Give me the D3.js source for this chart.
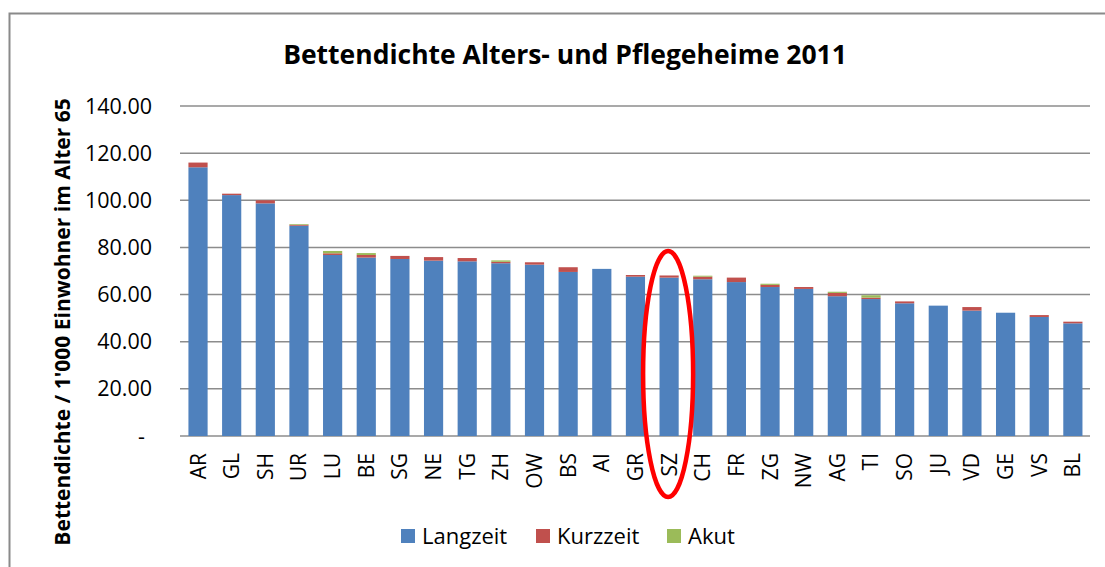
<!DOCTYPE html>
<html>
<head>
<meta charset="utf-8">
<script src="https://cdn.jsdelivr.net/npm/d3@7"></script>
<style>
  body { margin: 0; background: #fff; }
  svg text { font-family: "Open Sans", sans-serif; fill: #000; }
</style>
</head>
<body>
<div id="chart"></div>
<script>
var w = 1105;
var h = 567;

var kantone = ['AR','GL','SH','UR','LU','BE','SG','NE','TG','ZH','OW','BS','AI','GR','SZ','CH','FR','ZG','NW','AG','TI','SO','JU','VD','GE','VS','BL'];
var langzeit = [114.0,102.2,98.7,89.2,76.8,75.7,75.1,74.4,74.1,73.3,72.7,69.6,70.9,67.6,67.2,66.5,65.3,63.2,62.4,59.3,58.1,56.3,55.3,53.2,52.3,50.5,47.8];
var kurzzeit = [2.0,0.6,1.3,0.4,0.7,1.1,1.3,1.5,1.4,0.6,1.0,2.0,0.0,0.7,0.9,1.1,1.9,0.9,0.8,1.4,0.6,0.8,0.0,1.5,0.0,0.8,0.7];
var akut     = [0.0,0.0,0.0,0.3,1.0,0.8,0.0,0.0,0.0,0.6,0.0,0.0,0.0,0.0,0.0,0.4,0.0,0.5,0.0,0.5,1.0,0.0,0.0,0.0,0.0,0.0,0.0];
var serien = ['Langzeit','Kurzzeit','Akut'];
var farben = ['#4F81BD','#C0504D','#9BBB59'];
var yTicks = [0,20,40,60,80,100,120,140];

var rows = kantone.map(function(k, i) {
  return {k: k, Langzeit: langzeit[i], Kurzzeit: kurzzeit[i], Akut: akut[i]};
});
var stacked = d3.stack().keys(serien)(rows);

var svg = d3.select('#chart')
  .append('svg')
    .attr('width', w)
    .attr('height', h);

// outer chart frame (only top and left visible)
svg.append('rect')
  .attr('x', 9.5).attr('y', 13.5)
  .attr('width', 1110).attr('height', 600)
  .style('fill', 'none')
  .style('stroke', '#8a8a8a')
  .style('stroke-width', 2);

var x = d3.scaleBand()
  .domain(kantone)
  .range([181.2, 1089.7])
  .paddingInner(0.43)
  .paddingOuter(0.215);

var y = d3.scaleLinear()
  .domain([0, 140])
  .range([436, 106]);

// gridlines
svg.append('g')
  .selectAll('line')
  .data(yTicks)
  .enter()
  .append('line')
    .attr('x1', 180).attr('x2', 1090)
    .attr('y1', d => y(d)).attr('y2', d => y(d))
    .style('stroke', '#8c8c8c')
    .style('stroke-width', 1.5);

// y tick labels
svg.append('g')
  .selectAll('text')
  .data(yTicks)
  .enter()
  .append('text')
    .attr('x', d => d === 0 ? 145 : 152)
    .attr('y', d => y(d) + 7.5)
    .attr('text-anchor', 'end')
    .style('font-size', '21.5px')
    .text(d => d === 0 ? '-' : d3.format('.2f')(d));

// bars
svg.append('g')
  .selectAll('g')
  .data(stacked)
  .enter()
  .append('g')
    .style('fill', (d, i) => farben[i])
  .selectAll('rect')
  .data(d => d)
  .enter()
  .append('rect')
    .attr('x', d => x(d.data.k))
    .attr('y', d => y(d[1]))
    .attr('width', x.bandwidth())
    .attr('height', d => y(d[0]) - y(d[1]));

// x labels
svg.append('g')
  .selectAll('text')
  .data(kantone)
  .enter()
  .append('text')
    .attr('transform', d => 'translate(' + (x(d) + x.bandwidth() / 2 + 7.5) + ',453) rotate(-90)')
    .attr('text-anchor', 'end')
    .style('font-size', '21px')
    .text(d => d);

// title
svg.append('text')
  .attr('x', 565).attr('y', 64)
  .attr('text-anchor', 'middle')
  .style('font-size', '26.5px')
  .style('font-weight', 'bold')
  .text('Bettendichte Alters- und Pflegeheime 2011');

// y axis title
svg.append('text')
  .attr('transform', 'translate(70,322) rotate(-90)')
  .attr('text-anchor', 'middle')
  .style('font-size', '21px')
  .style('font-weight', 'bold')
  .text("Bettendichte / 1'000 Einwohner im Alter 65");

// legend
var legendX = [401, 536, 667];
var legend = svg.append('g')
  .selectAll('g')
  .data(serien)
  .enter()
  .append('g')
    .attr('transform', (d, i) => 'translate(' + legendX[i] + ',529)');
legend.append('rect')
  .attr('width', 14).attr('height', 14)
  .style('fill', (d, i) => farben[i]);
legend.append('text')
  .attr('x', 21).attr('y', 15)
  .style('font-size', '22px')
  .text(d => d);

// red highlight around SZ
svg.append('ellipse')
  .attr('cx', x('SZ') + x.bandwidth() / 2 - 1)
  .attr('cy', 374)
  .attr('rx', 25)
  .attr('ry', 123)
  .style('fill', 'none')
  .style('stroke', '#ff0000')
  .style('stroke-width', 4.5);
</script>
</body>
</html>
